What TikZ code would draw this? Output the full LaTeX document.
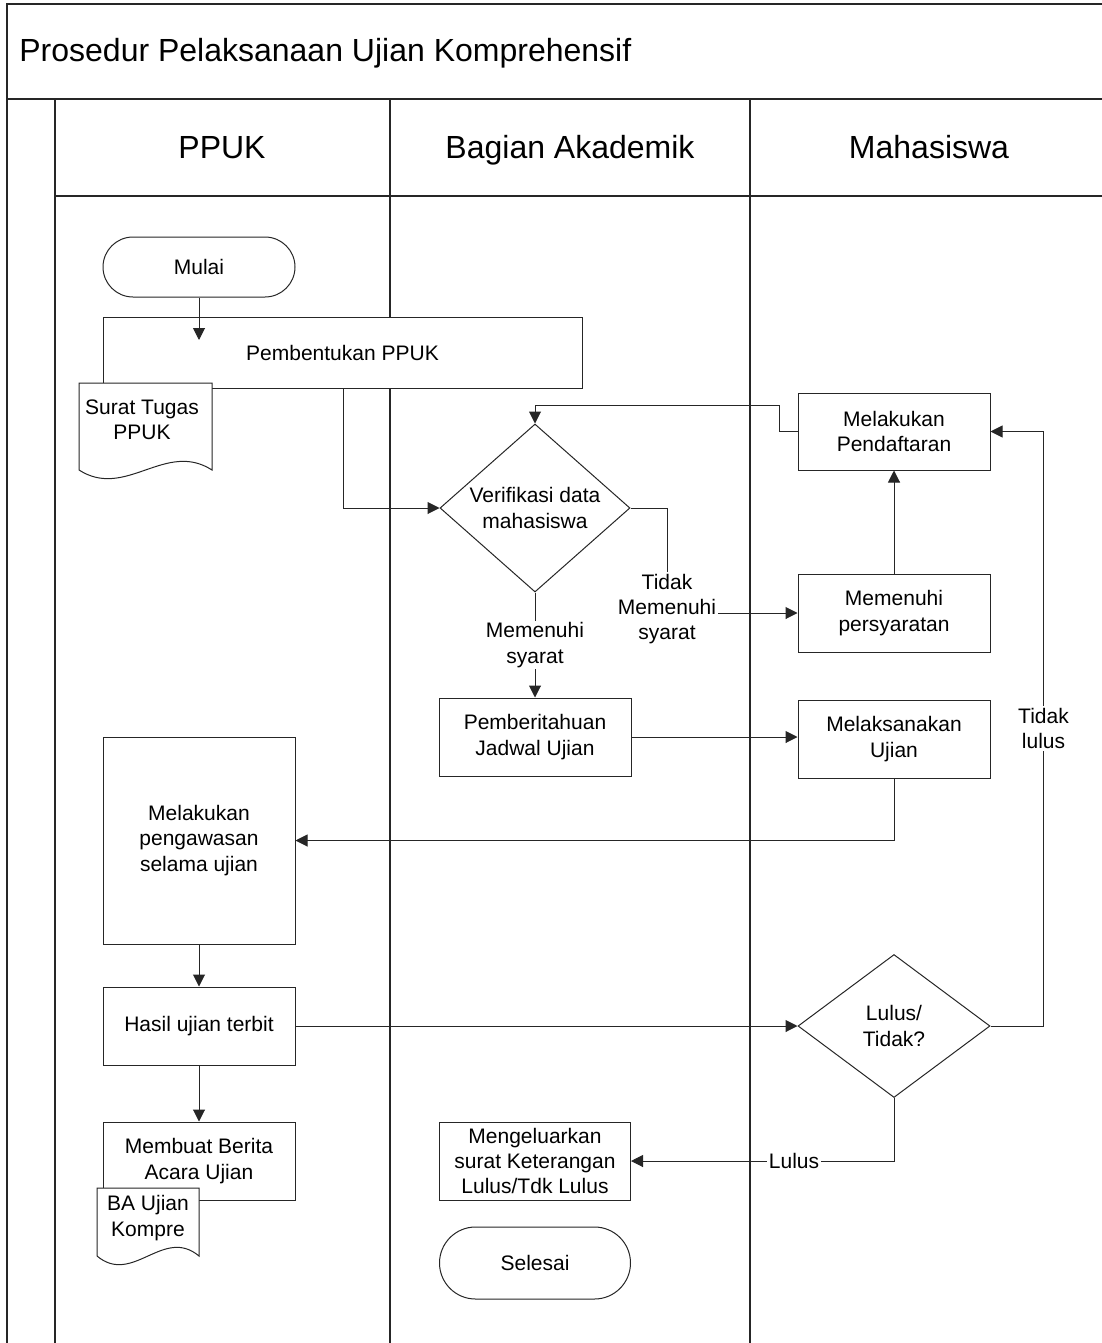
\documentclass[tikz,border=0pt]{standalone}
\usepackage{fontspec}
\setmainfont{Liberation Sans}
\usetikzlibrary{shapes.geometric,arrows.meta}

\begin{document}
\begin{tikzpicture}[x=0.5pt,y=-0.5pt,
		every node/.style={font=\fontsize{10.5}{12.6}\selectfont, align=center, text=black},
		garis/.style={line width=0.6pt, black!85},
		judulteks/.style={anchor=base, inner sep=0pt, font=\fontsize{16}{19}\selectfont},
		kotak/.style={draw=black!85, line width=0.5pt, fill=white, minimum width=96pt, inner sep=1pt},
		terminal/.style={kotak, rounded corners=15pt},
		putusan/.style={diamond, draw=black!85, line width=0.5pt, fill=white, inner sep=0pt},
		panah/.style={line width=0.5pt, black!85, -{Triangle[length=6pt,width=6pt]}},
		ket/.style={fill=white, inner sep=1pt, text=black}]
		\def\dokumen#1#2#3#4{%
			\draw[line width=0.5pt, black!85, fill=white] (#1,#3) -- (#2,#3) -- (#2,#4)
			.. controls ({#1+0.65*(#2-#1)},{#4-30}) and ({#1+0.35*(#2-#1)},{#4+30}) .. (#1,#4) -- cycle;}
		\useasboundingbox (0,0) rectangle (1102,1343);
		% kerangka dan lajur
		\draw[garis] (7,1343) -- (7,4) -- (1102,4);
		\draw[garis, line width=1.1pt] (7,99) -- (1102,99);
		\draw[garis] (55,196) -- (1102,196);
		\draw[garis] (55,99) -- (55,1343);
		\draw[garis] (390,99) -- (390,1343);
		\draw[garis] (750,99) -- (750,1343);
		\node[judulteks, anchor=base west] (judul) at (19,62) {Prosedur Pelaksanaan Ujian Komprehensif};
		\node[judulteks] (lajur1) at (222,158) {PPUK};
		\node[judulteks] (lajur2) at (570,158) {Bagian Akademik};
		\node[judulteks] (lajur3) at (929,158) {Mahasiswa};
		% simpul
		\node[terminal, minimum height=30pt] (mulai) at (199,267) {Mulai};
		\node[kotak, minimum width=239.5pt, minimum height=35.5pt] (ppuk) at (342.5,352.5) {Pembentukan PPUK};
		\dokumen{79}{212}{383}{470}
		\node (surat) at (142,420) {Surat Tugas\\PPUK};
		\node[putusan, minimum width=95pt, minimum height=84pt, aspect=1.13] (verif) at (535,508) {Verifikasi data\\mahasiswa};
		\node[kotak, minimum height=38.5pt] (daftar) at (894,431.5) {Melakukan\\Pendaftaran};
		\node[kotak, minimum height=39pt] (syarat) at (894,613) {Memenuhi\\persyaratan};
		\node[kotak, minimum height=39pt] (jadwal) at (535,737) {Pemberitahuan\\Jadwal Ujian};
		\node[kotak, minimum height=39pt] (ujian) at (894,739) {Melaksanakan\\Ujian};
		\node[kotak, minimum height=103.5pt] (awas) at (199,840.5) {Melakukan\\pengawasan\\selama ujian};
		\node[kotak, minimum height=39pt] (hasil) at (199,1026) {Hasil ujian terbit};
		\node[putusan, minimum width=96pt, minimum height=71.5pt, aspect=1.34] (lulusq) at (894,1026) {Lulus/\\Tidak?};
		\node[kotak, minimum height=39pt] (berita) at (199,1161) {Membuat Berita\\Acara Ujian};
		\dokumen{97}{199}{1188}{1256}
		\node (baujian) at (148,1218) {BA Ujian\\Kompre};
		\node[kotak, minimum width=95.5pt, minimum height=39pt] (keluar) at (535,1161) {Mengeluarkan\\surat Keterangan\\Lulus/Tdk Lulus};
		\node[terminal, minimum width=95.5pt, minimum height=36pt, rounded corners=18pt] (selesai) at (535,1263) {Selesai};
		% penghubung
		\coordinate (ujungmulai) at (199,340);
		\coordinate (turun) at (343,0);
		\draw[panah] (mulai.south) -- (ujungmulai);
		\draw[panah] (turun |- ppuk.south) |- (verif.west);
		\draw[panah] (daftar.west) -- ++(-18,0) -- ++(0,-26) -| (verif.north);
		\node[ket] (tms) at (667,609) {Tidak\\Memenuhi\\syarat};
		\draw[line width=0.5pt, black!85] (verif.east) -| (tms.north);
		\draw[panah] (tms.east |- syarat.west) -- (syarat.west);
		\draw[panah] (syarat.north) -- (daftar.south);
		\draw[panah] (verif.south) -- (jadwal.north) node[midway, ket] {Memenuhi\\syarat};
		\draw[panah] (jadwal.east) -- (jadwal.east -| ujian.west);
		\draw[panah] (ujian.south) |- (awas.east);
		\draw[panah] (awas.south) -- (hasil.north);
		\draw[panah] (hasil.east) -- (lulusq.west);
		\draw[panah] (lulusq.east) -- ++(53,0) |- (daftar.east) node[pos=0.25, ket] {Tidak\\lulus};
		\draw[panah] (lulusq.south) |- (keluar.east) node[pos=0.69, ket] {Lulus};
		\draw[panah] (hasil.south) -- (berita.north);
		\end{tikzpicture}
\end{document}
